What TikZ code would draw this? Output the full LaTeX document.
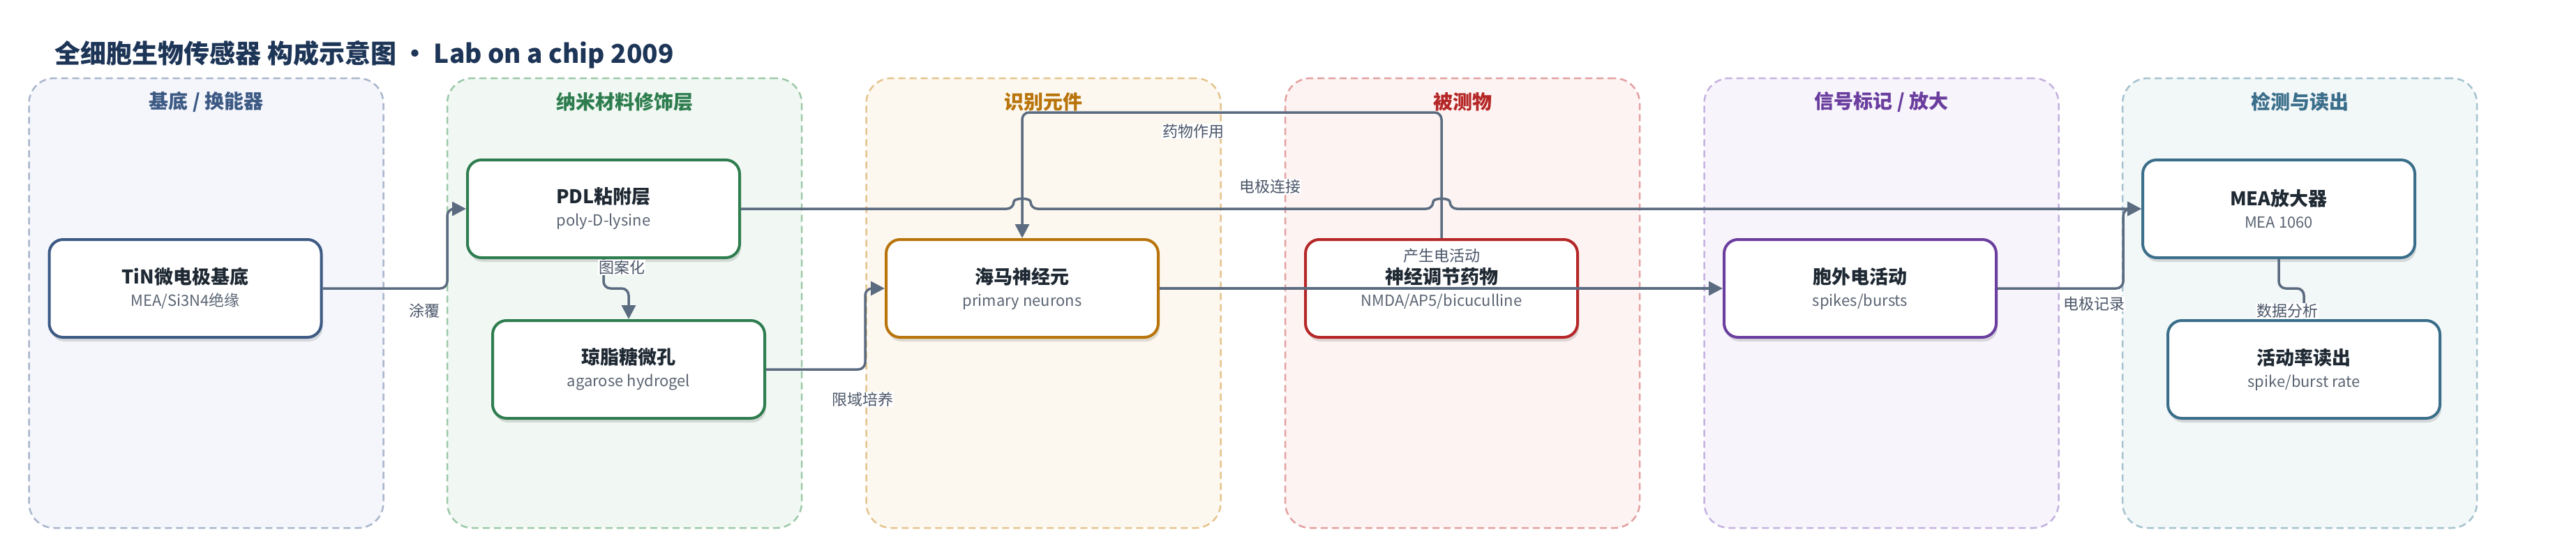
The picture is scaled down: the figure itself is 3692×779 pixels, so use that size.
\documentclass[tikz,border=0pt]{standalone}
\usepackage{fontspec}
\setmainfont{Noto Sans CJK SC}
\usetikzlibrary{arrows.meta,shadows}
\definecolor{titlec}{HTML}{1D3557}
\definecolor{edgec}{HTML}{5B6B80}
\definecolor{lblc}{HTML}{4A5568}
\definecolor{headc}{HTML}{1F2933}
\definecolor{subc}{HTML}{5B6573}
\definecolor{cA}{HTML}{3D5A85}\definecolor{dA}{HTML}{A9B6CC}\definecolor{fA}{HTML}{F4F6FB}
\definecolor{cB}{HTML}{2E7D4F}\definecolor{dB}{HTML}{9CC9A9}\definecolor{fB}{HTML}{F1F8F3}
\definecolor{cC}{HTML}{B8740A}\definecolor{dC}{HTML}{E5C48E}\definecolor{fC}{HTML}{FDF8EF}
\definecolor{cD}{HTML}{B52626}\definecolor{dD}{HTML}{E3A0A0}\definecolor{fD}{HTML}{FDF3F2}
\definecolor{cE}{HTML}{6A3D9E}\definecolor{dE}{HTML}{C5B2E0}\definecolor{fE}{HTML}{F7F4FB}
\definecolor{cF}{HTML}{3A6E8A}\definecolor{dF}{HTML}{A5C3CE}\definecolor{fF}{HTML}{F2F7F8}
\tikzstyle{lane}=[rounded corners=36pt, line width=2.5pt, dash pattern=on 10pt off 6pt, minimum width=508pt, minimum height=644pt]
\tikzstyle{lanetitle}=[font=\bfseries\fontsize{28}{32}\selectfont]
\tikzstyle{box}=[draw, fill=white, rounded corners=20pt, line width=4pt, minimum width=390pt, minimum height=140pt, align=center, font=\fontsize{22}{32}\selectfont, drop shadow={shadow xshift=2pt, shadow yshift=-6pt, opacity=0.12, fill=black}]
\tikzstyle{link}=[draw=edgec, line width=3.5pt, rounded corners=10pt]
\tikzstyle{flow}=[link, -{Triangle[length=20pt,width=20pt]}]
\tikzstyle{lbl}=[fill=white, text=lblc, font=\fontsize{22}{24}\selectfont, inner sep=1pt]
\newcommand{\boxtext}[2]{{\color{headc}\bfseries\fontsize{27}{32}\selectfont #1}\\{\color{subc}#2}}

\begin{document}
\begin{tikzpicture}[x=1pt, y=-1pt]
            \useasboundingbox[fill=white] (0,0) rectangle (3692,779);
            \node[anchor=west, text=titlec, font=\bfseries\fontsize{37}{44}\selectfont] (title) at (75,78) {全细胞生物传感器 构成示意图 • Lab on a chip 2009};
            % lanes
            \node[lane, draw=dA, fill=fA] (laneA) at (295.5,434) {};
            \node[lane, draw=dB, fill=fB] (laneB) at (895,434) {};
            \node[lane, draw=dC, fill=fC] (laneC) at (1495.5,434) {};
            \node[lane, draw=dD, fill=fD] (laneD) at (2096,434) {};
            \node[lane, draw=dE, fill=fE] (laneE) at (2696.5,434) {};
            \node[lane, draw=dF, fill=fF] (laneF) at (3296,434) {};
            \node[lanetitle, text=cA] (headA) at (295.5,146) {基底 / 换能器};
            \node[lanetitle, text=cB] (headB) at (895,146) {纳米材料修饰层};
            \node[lanetitle, text=cC] (headC) at (1495.5,146) {识别元件};
            \node[lanetitle, text=cD] (headD) at (2096,146) {被测物};
            \node[lanetitle, text=cE] (headE) at (2696.5,146) {信号标记 / 放大};
            \node[lanetitle, text=cF] (headF) at (3296,146) {检测与读出};
            % boxes
            \node[box, draw=cA] (tin) at (265.5,413) {\boxtext{TiN微电极基底}{MEA/Si3N4绝缘}};
            \node[box, draw=cB] (pdl) at (865,299) {\boxtext{PDL粘附层}{poly-D-lysine}};
            \node[box, draw=cB] (aga) at (901,529) {\boxtext{琼脂糖微孔}{agarose hydrogel}};
            \node[box, draw=cC] (neu) at (1465,413) {\boxtext{海马神经元}{primary neurons}};
            \node[box, draw=cD] (drug) at (2066,413) {\boxtext{神经调节药物}{NMDA/AP5/bicuculline}};
            \node[box, draw=cE] (ext) at (2666,413) {\boxtext{胞外电活动}{spikes/bursts}};
            \node[box, draw=cF] (mea) at (3266,299) {\boxtext{MEA放大器}{MEA 1060}};
            \node[box, draw=cF] (rate) at (3302,529) {\boxtext{活动率读出}{spike/burst rate}};
            % connectors
            \draw[flow] (tin.east) -- (641,413) |- (pdl.west);
            \draw[flow] (pdl.south) -- ++(0,42) -| (aga.north);
            \draw[flow] (aga.east) -- (1240,529) |- (neu.west);
            \draw[flow] (drug.north) -- ++(0,-180) -| (neu.north);
            \draw[flow] (pdl.east) -- (1453,299) .. controls (1453,283) and (1477,283) .. (1477,299)
                -- (2054,299) .. controls (2054,283) and (2078,283) .. (2078,299) -- (mea.west);
            \draw[flow] (neu.east) -- (ext.west);
            \draw[flow] (ext.east) -- (3043,413) |- (mea.west);
            \draw[flow] (mea.south) -- ++(0,42) -| (rate.north);
            % labels
            \node[lbl] (lcoat) at (608,445) {涂覆};
            \node[lbl] (lpat) at (891,383) {图案化};
            \node[lbl] (lconf) at (1236,572) {限域培养};
            \node[lbl] (ldrug) at (1710,188) {药物作用};
            \node[lbl] (lelec) at (1820,267) {电极连接};
            \node[lbl] (lfire) at (2066,366) {产生电活动};
            \node[lbl] (lrec) at (3001,435) {电极记录};
            \node[lbl] (lana) at (3278,445) {数据分析};
        \end{tikzpicture}
\end{document}
